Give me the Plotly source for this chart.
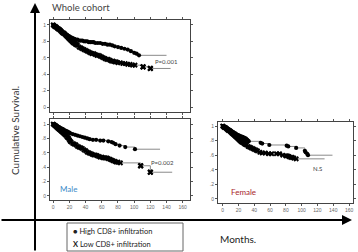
import plotly.graph_objects as go

W, H = 358, 252

# ---------------- data ----------------
whole_high_t = [0, 1, 2, 3, 4, 5, 6, 7, 8, 9, 10, 11, 12, 13, 14, 15, 16, 17, 18, 19,
                20, 21, 22, 23, 24, 25, 26, 27, 28, 30, 32, 34, 36, 38, 40, 42, 44, 46, 48, 50,
                52, 55, 58, 61, 64, 67, 70, 73, 76, 80, 84, 88, 92, 96, 100, 103, 106]
whole_high_s = [1.00, 0.99, 0.99, 0.98, 0.97, 0.97, 0.96, 0.95, 0.94, 0.94, 0.93, 0.92, 0.91, 0.90, 0.90, 0.89, 0.88, 0.88, 0.87, 0.86,
                0.86, 0.85, 0.85, 0.84, 0.84, 0.83, 0.83, 0.82, 0.82, 0.82, 0.81, 0.81, 0.81, 0.80, 0.80, 0.80, 0.79, 0.79, 0.79, 0.79,
                0.78, 0.78, 0.78, 0.77, 0.77, 0.76, 0.76, 0.75, 0.74, 0.73, 0.72, 0.71, 0.70, 0.68, 0.66, 0.65, 0.63]
whole_high_end = 140

whole_low_t = [0, 1, 2, 3, 4, 5, 6, 7, 8, 9, 10, 11, 12, 13, 14, 15, 16, 17, 18, 19,
               20, 21, 22, 23, 24, 25, 26, 27, 28, 29, 30, 32, 34, 36, 38, 40, 42, 44, 46, 48,
               50, 52, 54, 56, 58, 60, 62, 64, 66, 68, 70, 72, 74, 76, 78, 80, 83, 86, 89, 92,
               95, 98, 101, 111, 120]
whole_low_s = [1.00, 0.99, 0.98, 0.98, 0.97, 0.96, 0.95, 0.95, 0.94, 0.93, 0.92, 0.91, 0.90, 0.90, 0.89, 0.88, 0.87, 0.86, 0.85, 0.84,
               0.83, 0.82, 0.81, 0.80, 0.79, 0.78, 0.78, 0.77, 0.76, 0.76, 0.75, 0.73, 0.72, 0.71, 0.70, 0.69, 0.68, 0.67, 0.66, 0.65,
               0.65, 0.64, 0.63, 0.63, 0.62, 0.61, 0.60, 0.59, 0.58, 0.58, 0.57, 0.56, 0.56, 0.55, 0.55, 0.54, 0.54, 0.53, 0.53, 0.52,
               0.52, 0.51, 0.51, 0.49, 0.47]
whole_low_end = 145

male_high_t = [0, 1, 2, 3, 4, 5, 6, 7, 8, 9, 10, 11, 12, 13, 14, 15, 16, 17, 18, 19,
               20, 21, 24, 27, 30, 33, 36, 39, 42, 45, 49, 53, 58, 62, 68, 72, 74, 77, 82, 89,
               101]
male_high_s = [1.00, 0.99, 0.99, 0.98, 0.98, 0.97, 0.96, 0.96, 0.95, 0.94, 0.94, 0.93, 0.93, 0.92, 0.91, 0.91, 0.90, 0.90, 0.89, 0.88,
               0.88, 0.87, 0.86, 0.85, 0.84, 0.83, 0.82, 0.81, 0.80, 0.79, 0.78, 0.78, 0.77, 0.77, 0.76, 0.75, 0.74, 0.72, 0.70, 0.68,
               0.65]
male_high_end = 132

male_low_t = [0, 1, 2, 3, 4, 5, 6, 7, 8, 9, 10, 11, 12, 13, 14, 15, 16, 17, 18, 19,
              20, 21, 22, 24, 26, 28, 30, 32, 34, 36, 38, 40, 42, 44, 46, 48, 50, 52, 54, 56,
              58, 60, 62, 64, 66, 68, 70, 72, 74, 76, 78, 80, 83, 108, 120]
male_low_s = [1.00, 0.99, 0.98, 0.97, 0.96, 0.95, 0.94, 0.93, 0.92, 0.91, 0.90, 0.89, 0.88, 0.87, 0.86, 0.85, 0.84, 0.82, 0.81, 0.80,
              0.78, 0.76, 0.75, 0.73, 0.72, 0.71, 0.69, 0.68, 0.67, 0.66, 0.64, 0.63, 0.61, 0.60, 0.59, 0.58, 0.57, 0.57, 0.56, 0.55,
              0.54, 0.54, 0.53, 0.53, 0.53, 0.52, 0.51, 0.50, 0.49, 0.48, 0.47, 0.47, 0.46, 0.42, 0.33]
male_low_end = 147

female_high_t = [0, 1, 2, 3, 4, 5, 6, 7, 8, 9, 10, 11, 12, 13, 14, 15, 16, 17, 18, 19,
                 20, 21, 22, 23, 24, 25, 26, 27, 28, 29, 30, 31, 32, 33, 48, 50, 59, 81, 83, 93,
                 104, 105, 107, 108]
female_high_s = [1.00, 0.99, 0.99, 0.98, 0.98, 0.97, 0.96, 0.96, 0.95, 0.94, 0.94, 0.93, 0.92, 0.92, 0.91, 0.90, 0.90, 0.89, 0.88, 0.88,
                 0.87, 0.87, 0.86, 0.86, 0.85, 0.85, 0.84, 0.84, 0.83, 0.83, 0.82, 0.81, 0.80, 0.79, 0.77, 0.76, 0.74, 0.73, 0.72, 0.70,
                 0.66, 0.64, 0.62, 0.60]
female_high_end = 139

female_low_t = [0, 1, 2, 3, 4, 5, 6, 7, 8, 9, 10, 11, 12, 13, 14, 15, 16, 17, 18, 19,
                20, 21, 22, 23, 24, 25, 26, 27, 28, 29, 30, 32, 34, 36, 38, 40, 42, 44, 47, 50,
                54, 58, 62, 68, 72, 76, 80, 82, 84, 86, 88, 90, 93]
female_low_s = [1.00, 0.99, 0.98, 0.98, 0.97, 0.96, 0.95, 0.94, 0.94, 0.93, 0.92, 0.91, 0.90, 0.89, 0.88, 0.87, 0.86, 0.85, 0.84, 0.83,
                0.82, 0.81, 0.80, 0.79, 0.78, 0.78, 0.77, 0.76, 0.75, 0.75, 0.74, 0.72, 0.71, 0.70, 0.69, 0.68, 0.67, 0.66, 0.64, 0.63,
                0.63, 0.62, 0.62, 0.62, 0.62, 0.60, 0.59, 0.59, 0.58, 0.57, 0.57, 0.56, 0.55]
female_low_end = 129

y_tickvals = [0, 0.2, 0.4, 0.6, 0.8, 1]
y_ticktext = ["0", ".2", ".4", ".6", ".8", "1"]
x_tickvals = [0, 20, 40, 60, 80, 100, 120, 140, 160]
x_ticktext = ["0", "20", "40", "60", "80", "100", "120", "140", "160"]

p_whole = "P=0.001"
p_male = "P=0.002"
p_female = "N.S"

# ---------------- helpers ----------------
def px(x):
    return x / W

def py(y):
    return 1 - y / H

fig = go.Figure()

curves = [
    (whole_high_t, whole_high_s, whole_high_end, "x", "y", "circle", 4.2),
    (whole_low_t, whole_low_s, whole_low_end, "x", "y", "x", 5),
    (male_high_t, male_high_s, male_high_end, "x2", "y2", "circle", 4.2),
    (male_low_t, male_low_s, male_low_end, "x2", "y2", "x", 5),
    (female_high_t, female_high_s, female_high_end, "x3", "y3", "circle", 4.2),
    (female_low_t, female_low_s, female_low_end, "x3", "y3", "x", 5),
]
for t, s, end, xa, ya, sym, size in curves:
    fig.add_trace(go.Scatter(x=t + [end], y=s + [s[-1]], mode="lines",
                             line=dict(shape="hv", color="#8a8a8a", width=1),
                             xaxis=xa, yaxis=ya, showlegend=False, hoverinfo="skip"))
    fig.add_trace(go.Scatter(x=t, y=s, mode="markers",
                             marker=dict(symbol=sym, size=size, color="black", line=dict(width=0)),
                             xaxis=xa, yaxis=ya, showlegend=False))

# bigger X markers at the censored tail points
fig.add_trace(go.Scatter(x=whole_low_t[-2:], y=whole_low_s[-2:], mode="markers",
                         marker=dict(symbol="x", size=5.5, color="black"),
                         xaxis="x", yaxis="y", showlegend=False))
fig.add_trace(go.Scatter(x=male_low_t[-2:], y=male_low_s[-2:], mode="markers",
                         marker=dict(symbol="x", size=5.5, color="black"),
                         xaxis="x2", yaxis="y2", showlegend=False))

tickfont = dict(family="Liberation Sans, Arial", size=5, color="#666")

def xaxis(domain, rng, labels=True, anchor="y"):
    return dict(domain=domain, range=rng, anchor=anchor, showgrid=False, zeroline=False,
                showline=True, linecolor="#444", linewidth=1, mirror="ticks",
                ticks="outside", ticklen=2, tickcolor="#555", tickwidth=1,
                tickvals=x_tickvals, ticktext=x_ticktext, showticklabels=labels,
                tickfont=tickfont)

def yaxis(domain, rng, anchor="x"):
    return dict(domain=domain, range=rng, anchor=anchor, showgrid=False, zeroline=False,
                showline=True, linecolor="#444", linewidth=1, mirror="ticks",
                ticks="outside", ticklen=2, tickcolor="#555", tickwidth=1,
                tickvals=y_tickvals, ticktext=y_ticktext, tickfont=tickfont)

fig.update_layout(
    width=W, height=H, margin=dict(l=0, r=0, t=0, b=0),
    paper_bgcolor="white", plot_bgcolor="white",
    xaxis=xaxis([px(50), px(190)], [-4, 169], labels=False, anchor="y"),
    yaxis=yaxis([py(112), py(20)], [-0.06, 1.06], anchor="x"),
    xaxis2=xaxis([px(50), px(190)], [-4, 169], anchor="y2"),
    yaxis2=yaxis([py(200), py(119)], [-0.056, 1.07], anchor="x2"),
    xaxis3=xaxis([px(218), px(353)], [-6, 165], anchor="y3"),
    yaxis3=yaxis([py(203), py(122)], [-0.055, 1.055], anchor="x3"),
)

title_font = "Lato, Open Sans, sans-serif"
ann = []
# big axes arrows
ann.append(dict(x=px(35), y=py(3), xref="paper", yref="paper", ax=0, ay=249,
                axref="pixel", ayref="pixel", text="", showarrow=True,
                arrowhead=2, arrowsize=1, arrowwidth=2, arrowcolor="black"))
ann.append(dict(x=px(352), y=py(220), xref="paper", yref="paper", ax=-352, ay=0,
                axref="pixel", ayref="pixel", text="", showarrow=True,
                arrowhead=2, arrowsize=1, arrowwidth=2, arrowcolor="black"))
ann.append(dict(x=px(50), y=py(7), xref="paper", yref="paper", xanchor="left", yanchor="middle",
                text="Whole cohort", showarrow=False,
                font=dict(family=title_font, size=9.5, color="#444")))
ann.append(dict(x=px(15), y=py(131), xref="paper", yref="paper", xanchor="center", yanchor="middle",
                text="Cumulative Survival.", textangle=-90, showarrow=False,
                font=dict(family=title_font, size=10, color="#333")))
ann.append(dict(x=px(218), y=py(239), xref="paper", yref="paper", xanchor="left", yanchor="middle",
                text="Months.", showarrow=False,
                font=dict(family=title_font, size=10, color="#222")))
# p-values & group labels
ann.append(dict(x=123, y=0.56, xref="x", yref="y", xanchor="left", yanchor="middle", text=p_whole,
                showarrow=False, font=dict(family=title_font, size=6, color="#444")))
ann.append(dict(x=118, y=0.47, xref="x2", yref="y2", xanchor="left", yanchor="middle", text=p_male,
                showarrow=False, font=dict(family=title_font, size=6, color="#444")))
ann.append(dict(x=112, y=0.42, xref="x3", yref="y3", xanchor="left", yanchor="middle", text=p_female,
                showarrow=False, font=dict(family=title_font, size=6, color="#444")))
ann.append(dict(x=6, y=0.1, xref="x2", yref="y2", xanchor="left", yanchor="middle", text="Male",
                showarrow=False, font=dict(family=title_font, size=8, color="#3b8ac8")))
ann.append(dict(x=8, y=0.1, xref="x3", yref="y3", xanchor="left", yanchor="middle", text="Female",
                showarrow=False, font=dict(family=title_font, size=8, color="#a8262a")))
# legend box text
ann.append(dict(x=px(71), y=py(231), xref="paper", yref="paper", xanchor="left", yanchor="middle",
                text="● High CD8+ infiltration", showarrow=False,
                font=dict(family=title_font, size=7.5, color="#222")))
ann.append(dict(x=px(71), y=py(244), xref="paper", yref="paper", xanchor="left", yanchor="middle",
                text="<b>X</b> Low CD8+ infiltration", showarrow=False,
                font=dict(family=title_font, size=7.5, color="#222")))
fig.update_layout(annotations=ann)

fig.update_layout(shapes=[
    dict(type="rect", xref="paper", yref="paper", x0=px(67), x1=px(183), y0=py(251), y1=py(223),
         line=dict(color="#666", width=1), fillcolor="rgba(0,0,0,0)"),
])

fig.write_html("out.html", config={"displayModeBar": False},
               post_script="document.body.style.margin='0';document.body.style.overflow='hidden';")
